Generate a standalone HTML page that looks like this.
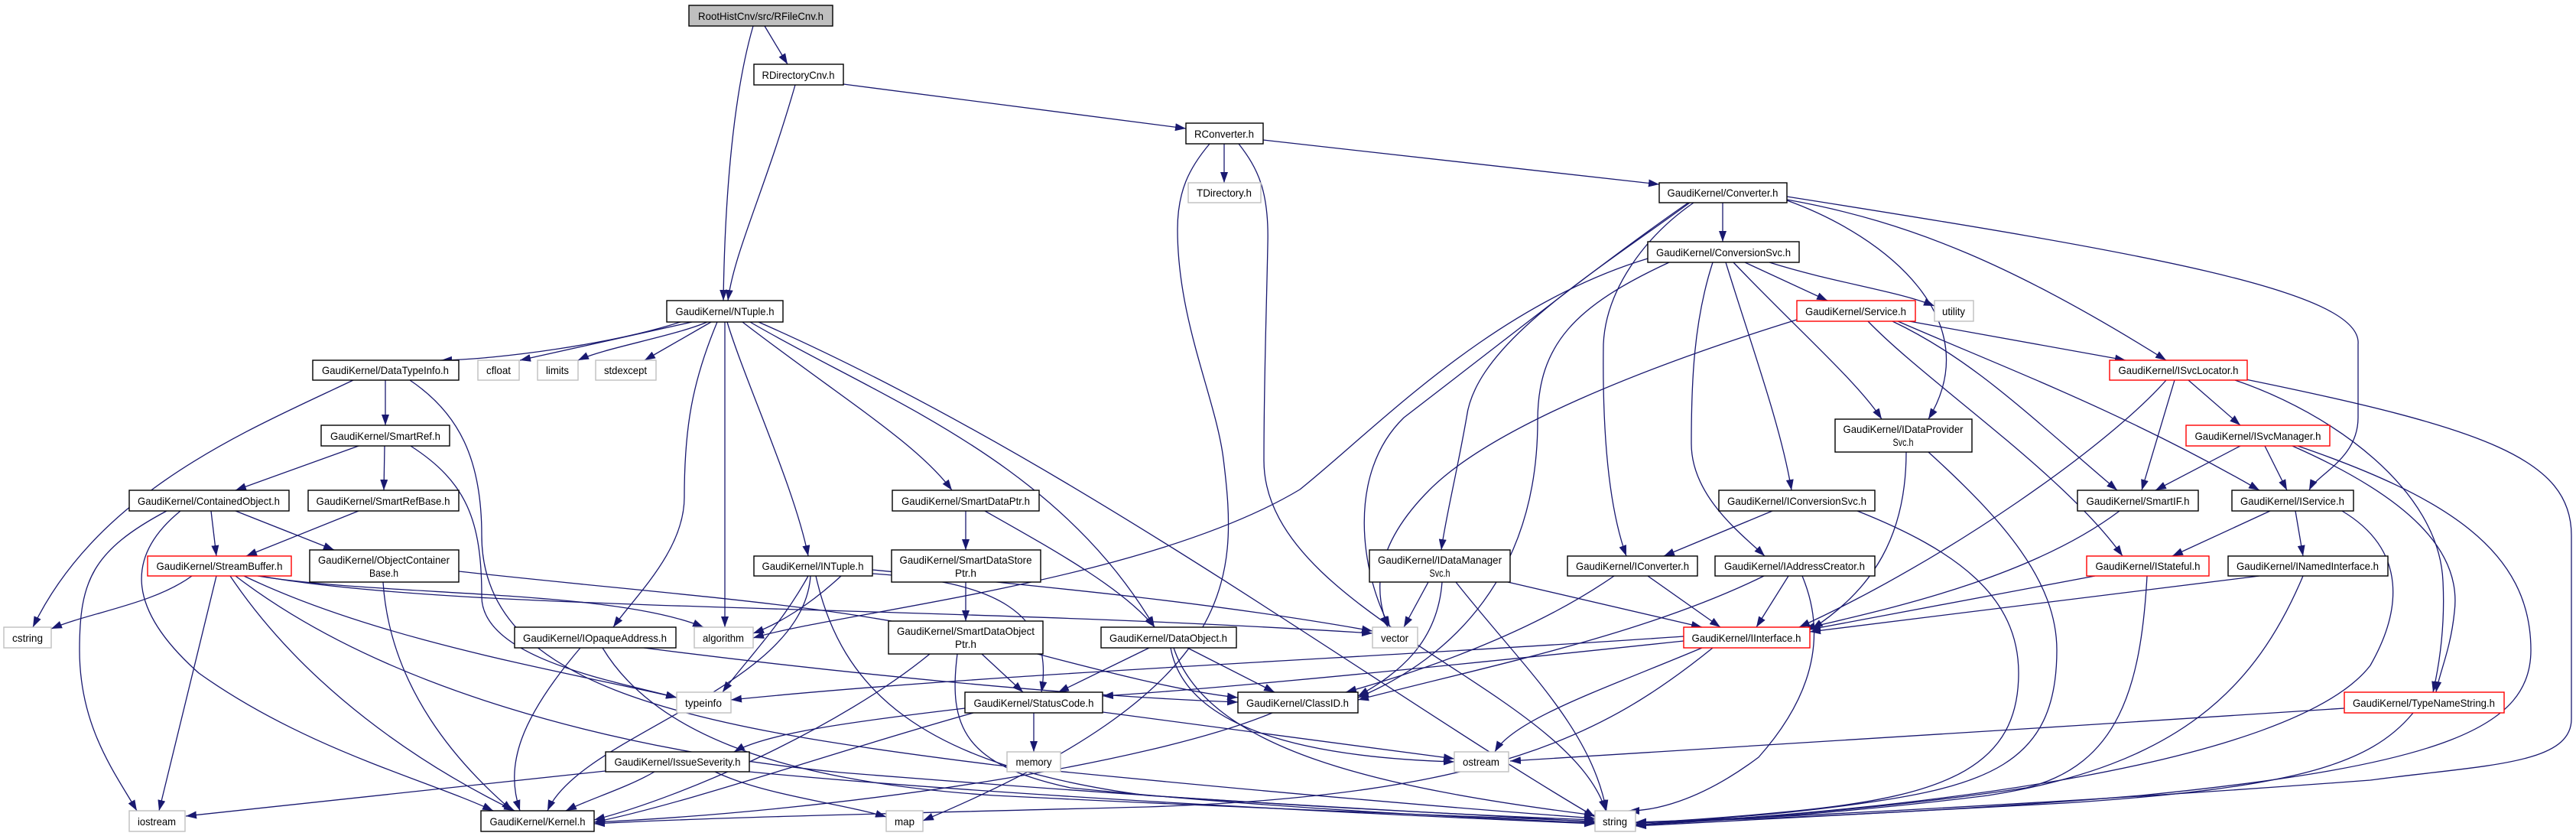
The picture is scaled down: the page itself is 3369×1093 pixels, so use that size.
<!DOCTYPE html>
<html><head><meta charset="utf-8"><style>
html,body{margin:0;padding:0;background:#fff;}
svg{display:block;}
text{font-family:"Liberation Sans",sans-serif;font-size:14px;fill:#000;text-anchor:middle;}
.e{fill:none;stroke:#191970;stroke-width:1.3;marker-end:url(#a);}
.b{fill:#fff;stroke:#000;stroke-width:1.4;}
.g{fill:#fff;stroke:#bfbfbf;stroke-width:1.4;}
.r{fill:#fff;stroke:#ff0000;stroke-width:1.4;}
</style></head><body>
<svg width="3369" height="1093" viewBox="0 0 3369 1093" xmlns="http://www.w3.org/2000/svg">
<defs><marker id="a" markerUnits="userSpaceOnUse" markerWidth="14" markerHeight="10" refX="14" refY="5" orient="auto"><path d="M0,0 L14,5 L0,10 z" fill="#191970"/></marker></defs>
<g>
<path class="e" d="M1000,34 L1030,84"/>
<path class="e" d="M985,34 C960,120 948,250 946,393"/>
<path class="e" d="M1040,111 C1000,250 960,330 952,393"/>
<path class="e" d="M1103,110 L1551,168"/>
<path class="e" d="M1601,188 L1601,239"/>
<path class="e" d="M1652,183 L2170,241"/>
<path class="e" d="M1582,188 C1555,220 1540,250 1540,300 C1540,420 1590,520 1600,600 C1620,760 1620,900 1207,1073"/>
<path class="e" d="M1620,188 C1645,220 1660,250 1658,320 C1656,420 1653,500 1653,600 C1650,800 2050,900 2100,1060"/>
<path class="e" d="M2253,265 L2253,316"/>
<path class="e" d="M2215,265 C2150,310 2100,380 2097,450 C2095,600 2110,680 2127,727"/>
<path class="e" d="M2210,265 C2080,360 1930,450 1918,546 C1905,620 1890,680 1885,719"/>
<path class="e" d="M2208,265 C2100,340 2000,420 1836,546 C1760,620 1780,750 1818,820"/>
<path class="e" d="M2337,262 C2470,310 2600,420 2522,548"/>
<path class="e" d="M2337,261 C2500,290 2640,350 2833,471"/>
<path class="e" d="M2337,257 C2800,330 3090,380 3084,450 L3084,546 C3084,600 3030,620 3020,641"/>
<path class="e" d="M890,421 C800,450 650,470 577,471"/>
<path class="e" d="M905,421 L680,471"/>
<path class="e" d="M925,421 C880,440 790,455 756,471"/>
<path class="e" d="M930,421 L843,471"/>
<path class="e" d="M948,421 L948,820"/>
<path class="e" d="M938,421 C905,500 895,560 895,650 C895,720 830,780 802,820"/>
<path class="e" d="M951,421 C975,500 1040,640 1057,727"/>
<path class="e" d="M971,421 C1100,520 1200,580 1245,641"/>
<path class="e" d="M981,421 C1150,520 1380,600 1510,820"/>
<path class="e" d="M992,421 C1400,600 1800,900 2086,1068"/>
<path class="e" d="M462,497 C330,560 130,640 43,820"/>
<path class="e" d="M504,497 L504,556"/>
<path class="e" d="M536,497 C600,540 630,600 630,700 C630,900 900,950 1300,1000 C1700,1040 1950,1060 2086,1070"/>
<path class="e" d="M469,583 L308,641"/>
<path class="e" d="M503,583 L502,641"/>
<path class="e" d="M537,583 C610,630 630,680 630,780 C630,860 800,890 885,912"/>
<path class="e" d="M218,668 C120,720 104,760 104,850 C104,950 150,1010 179,1060"/>
<path class="e" d="M236,668 C160,730 170,800 260,880 C400,980 560,1020 645,1060"/>
<path class="e" d="M276,668 L283,727"/>
<path class="e" d="M308,668 L437,719"/>
<path class="e" d="M469,668 L322,727"/>
<path class="e" d="M251,753 C200,790 120,800 67,822"/>
<path class="e" d="M283,753 L208,1060"/>
<path class="e" d="M301,753 C400,900 550,1000 673,1060"/>
<path class="e" d="M308,753 C500,900 800,980 1100,1010 C1600,1050 1900,1065 2086,1072"/>
<path class="e" d="M319,753 C500,840 750,880 885,912"/>
<path class="e" d="M337,753 C500,780 800,770 920,820"/>
<path class="e" d="M340,753 C600,800 1200,790 1795,828"/>
<path class="e" d="M501,761 C510,900 600,1000 670,1060"/>
<path class="e" d="M600,747 C900,780 1100,790 1300,840 C1450,880 1550,905 1619,912"/>
<path class="e" d="M759,847 C680,940 660,1000 680,1060"/>
<path class="e" d="M788,847 C850,950 1000,1020 1300,1040 C1700,1060 1950,1068 2086,1074"/>
<path class="e" d="M842,847 C1100,880 1400,910 1619,918"/>
<path class="e" d="M1057,753 C1020,820 970,870 945,905"/>
<path class="e" d="M1060,753 C1050,900 760,960 716,1060"/>
<path class="e" d="M1141,745 C1400,770 1600,790 1795,825"/>
<path class="e" d="M1141,750 C1300,760 1380,800 1362,905"/>
<path class="e" d="M1067,753 C1100,900 1200,1000 1500,1040 C1800,1060 2000,1068 2086,1075"/>
<path class="e" d="M1100,753 C1060,790 1020,815 985,828"/>
<path class="e" d="M1263,668 L1263,719"/>
<path class="e" d="M1288,668 C1380,720 1470,770 1510,820"/>
<path class="e" d="M1263,761 L1263,812"/>
<path class="e" d="M1284,855 L1338,905"/>
<path class="e" d="M1252,855 C1240,950 1260,1000 1400,1030 C1700,1060 1950,1070 2086,1076"/>
<path class="e" d="M1216,855 C1100,950 900,1040 777,1072"/>
<path class="e" d="M1503,847 L1384,905"/>
<path class="e" d="M1553,847 L1667,905"/>
<path class="e" d="M1531,847 C1550,950 1700,990 1902,996"/>
<path class="e" d="M1535,847 C1580,980 1800,1030 2086,1066"/>
<path class="e" d="M1868,761 L1836,820"/>
<path class="e" d="M1886,761 C1880,840 1830,880 1776,910"/>
<path class="e" d="M1904,761 C1990,870 2080,950 2101,1060"/>
<path class="e" d="M1972,761 L2226,820"/>
<path class="e" d="M2111,753 C2000,830 1850,880 1760,905"/>
<path class="e" d="M2155,753 L2250,820"/>
<path class="e" d="M1352,932 L1352,983"/>
<path class="e" d="M1442,931 L1902,992"/>
<path class="e" d="M1262,926 C1100,945 1000,960 960,983"/>
<path class="e" d="M1273,932 C1100,980 900,1050 777,1075"/>
<path class="e" d="M1664,932 C1500,1000 1100,1060 777,1075"/>
<path class="e" d="M792,1008 L243,1067"/>
<path class="e" d="M856,1009 C820,1030 770,1045 740,1060"/>
<path class="e" d="M935,1009 C1000,1040 1100,1050 1159,1068"/>
<path class="e" d="M980,1009 C1300,1040 1800,1065 2086,1077"/>
<path class="e" d="M2282,343 L2390,393"/>
<path class="e" d="M2314,343 C2400,370 2480,380 2530,400"/>
<path class="e" d="M2257,343 C2290,450 2330,560 2343,641"/>
<path class="e" d="M2267,343 C2350,430 2430,500 2461,548"/>
<path class="e" d="M2240,343 C2215,420 2212,500 2212,580 C2212,650 2280,700 2308,727"/>
<path class="e" d="M2155,338 C1950,400 1800,560 1700,640 C1500,760 1100,800 985,834"/>
<path class="e" d="M2183,343 C2060,400 2011,450 2011,550 C2011,750 1900,860 1776,912"/>
<path class="e" d="M2350,418 C2150,480 1950,560 1870,640 C1790,720 1800,780 1815,820"/>
<path class="e" d="M2443,420 C2520,500 2700,620 2776,727"/>
<path class="e" d="M2475,420 C2580,470 2650,540 2769,641"/>
<path class="e" d="M2482,420 C2620,480 2780,540 2955,641"/>
<path class="e" d="M2497,420 L2780,471"/>
<path class="e" d="M2833,497 C2760,580 2550,730 2353,820"/>
<path class="e" d="M2844,497 L2801,641"/>
<path class="e" d="M2862,497 L2930,556"/>
<path class="e" d="M2923,497 C3050,540 3190,640 3195,760 C3198,820 3190,870 3182,905"/>
<path class="e" d="M2937,496 C3250,560 3363,600 3363,700 L3363,940 C3363,1000 3250,1000 3100,1020 C2700,1050 2300,1070 2139,1075"/>
<path class="e" d="M2930,583 L2819,641"/>
<path class="e" d="M2962,583 L2991,641"/>
<path class="e" d="M2998,583 C3150,650 3220,720 3210,800 C3205,850 3190,880 3186,905"/>
<path class="e" d="M3005,583 C3200,650 3310,720 3310,850 C3310,950 3200,1000 2800,1040 C2500,1065 2250,1072 2139,1076"/>
<path class="e" d="M2969,668 L2841,727"/>
<path class="e" d="M3002,668 L3012,727"/>
<path class="e" d="M3063,668 C3150,720 3140,800 3100,870 C3000,1000 2500,1060 2139,1078"/>
<path class="e" d="M2772,668 C2650,760 2450,800 2360,822"/>
<path class="e" d="M2740,753 L2367,823"/>
<path class="e" d="M2808,753 C2800,900 2770,1000 2650,1030 C2450,1060 2250,1072 2139,1078"/>
<path class="e" d="M2955,753 L2367,826"/>
<path class="e" d="M3012,753 C2950,900 2850,1000 2600,1040 C2400,1065 2250,1072 2139,1079"/>
<path class="e" d="M3066,926 C2700,950 2300,975 1975,995"/>
<path class="e" d="M3156,932 C3100,1000 3000,1030 2700,1050 C2450,1065 2250,1073 2139,1080"/>
<path class="e" d="M2493,591 C2493,700 2450,770 2370,822"/>
<path class="e" d="M2522,591 C2620,680 2690,760 2690,850 C2690,1000 2600,1030 2400,1055 C2300,1068 2200,1073 2139,1076"/>
<path class="e" d="M2318,668 L2176,727"/>
<path class="e" d="M2429,668 C2560,720 2640,780 2640,880 C2640,1000 2550,1040 2350,1060 C2250,1070 2180,1074 2139,1076"/>
<path class="e" d="M2307,753 C2150,830 1950,870 1776,915"/>
<path class="e" d="M2339,753 L2297,820"/>
<path class="e" d="M2357,753 C2385,820 2380,900 2300,990 C2220,1050 2160,1060 2130,1060"/>
<path class="e" d="M2202,838 C1900,870 1600,900 1442,910"/>
<path class="e" d="M2202,832 C1800,860 1300,880 956,915"/>
<path class="e" d="M2226,847 C2100,900 1980,940 1955,983"/>
<path class="e" d="M2240,847 C2100,960 1950,1040 1500,1055 C1100,1065 900,1070 777,1077"/>
</g>
<g>
<rect x="901" y="7" width="188" height="27" fill="#bfbfbf" stroke="#000" stroke-width="1.4"/><text x="995" y="26" textLength="164" lengthAdjust="spacingAndGlyphs">RootHistCnv/src/RFileCnv.h</text>
<rect class="b" x="986" y="84" width="117" height="27"/><text x="1044" y="103" textLength="95" lengthAdjust="spacingAndGlyphs">RDirectoryCnv.h</text>
<rect class="b" x="1551" y="161" width="101" height="27"/><text x="1601" y="180" textLength="78" lengthAdjust="spacingAndGlyphs">RConverter.h</text>
<rect class="g" x="1554" y="239" width="95" height="26"/><text x="1601" y="257" textLength="72" lengthAdjust="spacingAndGlyphs">TDirectory.h</text>
<rect class="b" x="2170" y="239" width="167" height="26"/><text x="2253" y="257" textLength="145" lengthAdjust="spacingAndGlyphs">GaudiKernel/Converter.h</text>
<rect class="b" x="2155" y="316" width="198" height="27"/><text x="2254" y="335" textLength="176" lengthAdjust="spacingAndGlyphs">GaudiKernel/ConversionSvc.h</text>
<rect class="r" x="2350" y="393" width="155" height="27"/><text x="2427" y="412" textLength="132" lengthAdjust="spacingAndGlyphs">GaudiKernel/Service.h</text>
<rect class="g" x="2530" y="393" width="51" height="27"/><text x="2555" y="412" textLength="30" lengthAdjust="spacingAndGlyphs">utility</text>
<rect class="r" x="2759" y="471" width="180" height="26"/><text x="2849" y="489" textLength="157" lengthAdjust="spacingAndGlyphs">GaudiKernel/ISvcLocator.h</text>
<rect class="b" x="872" y="393" width="152" height="28"/><text x="948" y="412" textLength="129" lengthAdjust="spacingAndGlyphs">GaudiKernel/NTuple.h</text>
<rect class="b" x="409" y="471" width="191" height="26"/><text x="504" y="489" textLength="166" lengthAdjust="spacingAndGlyphs">GaudiKernel/DataTypeInfo.h</text>
<rect class="g" x="625" y="471" width="54" height="26"/><text x="652" y="489" textLength="32" lengthAdjust="spacingAndGlyphs">cfloat</text>
<rect class="g" x="703" y="471" width="53" height="26"/><text x="729" y="489" textLength="30" lengthAdjust="spacingAndGlyphs">limits</text>
<rect class="g" x="779" y="471" width="79" height="26"/><text x="818" y="489" textLength="56" lengthAdjust="spacingAndGlyphs">stdexcept</text>
<rect class="b" x="420" y="556" width="168" height="27"/><text x="504" y="575" textLength="144" lengthAdjust="spacingAndGlyphs">GaudiKernel/SmartRef.h</text>
<rect class="b" x="169" y="641" width="209" height="27"/><text x="273" y="660" textLength="186" lengthAdjust="spacingAndGlyphs">GaudiKernel/ContainedObject.h</text>
<rect class="b" x="403" y="641" width="197" height="27"/><text x="501" y="660" textLength="175" lengthAdjust="spacingAndGlyphs">GaudiKernel/SmartRefBase.h</text>
<rect class="r" x="193" y="727" width="188" height="26"/><text x="287" y="745" textLength="165" lengthAdjust="spacingAndGlyphs">GaudiKernel/StreamBuffer.h</text>
<rect class="b" x="405" y="719" width="195" height="42"/><text x="502" y="737" textLength="172" lengthAdjust="spacingAndGlyphs">GaudiKernel/ObjectContainer</text><text x="502" y="754" textLength="38" lengthAdjust="spacingAndGlyphs">Base.h</text>
<rect class="g" x="5" y="820" width="62" height="27"/><text x="36" y="839" textLength="40" lengthAdjust="spacingAndGlyphs">cstring</text>
<rect class="b" x="673" y="820" width="211" height="27"/><text x="778" y="839" textLength="188" lengthAdjust="spacingAndGlyphs">GaudiKernel/IOpaqueAddress.h</text>
<rect class="g" x="908" y="820" width="77" height="27"/><text x="946" y="839" textLength="54" lengthAdjust="spacingAndGlyphs">algorithm</text>
<rect class="g" x="885" y="905" width="71" height="27"/><text x="920" y="924" textLength="48" lengthAdjust="spacingAndGlyphs">typeinfo</text>
<rect class="b" x="792" y="983" width="188" height="26"/><text x="886" y="1001" textLength="165" lengthAdjust="spacingAndGlyphs">GaudiKernel/IssueSeverity.h</text>
<rect class="g" x="169" y="1060" width="73" height="27"/><text x="205" y="1079" textLength="50" lengthAdjust="spacingAndGlyphs">iostream</text>
<rect class="b" x="629" y="1060" width="148" height="27"/><text x="703" y="1079" textLength="125" lengthAdjust="spacingAndGlyphs">GaudiKernel/Kernel.h</text>
<rect class="b" x="986" y="727" width="155" height="26"/><text x="1063" y="745" textLength="133" lengthAdjust="spacingAndGlyphs">GaudiKernel/INTuple.h</text>
<rect class="b" x="1167" y="641" width="192" height="27"/><text x="1263" y="660" textLength="168" lengthAdjust="spacingAndGlyphs">GaudiKernel/SmartDataPtr.h</text>
<rect class="b" x="1166" y="719" width="195" height="42"/><text x="1263" y="737" textLength="173" lengthAdjust="spacingAndGlyphs">GaudiKernel/SmartDataStore</text><text x="1263" y="754" textLength="28" lengthAdjust="spacingAndGlyphs">Ptr.h</text>
<rect class="b" x="1162" y="812" width="202" height="43"/><text x="1263" y="830" textLength="180" lengthAdjust="spacingAndGlyphs">GaudiKernel/SmartDataObject</text><text x="1263" y="847" textLength="28" lengthAdjust="spacingAndGlyphs">Ptr.h</text>
<rect class="b" x="1440" y="820" width="177" height="27"/><text x="1528" y="839" textLength="154" lengthAdjust="spacingAndGlyphs">GaudiKernel/DataObject.h</text>
<rect class="g" x="1795" y="820" width="59" height="27"/><text x="1824" y="839" textLength="36" lengthAdjust="spacingAndGlyphs">vector</text>
<rect class="b" x="1791" y="719" width="184" height="42"/><text x="1883" y="737" textLength="162" lengthAdjust="spacingAndGlyphs">GaudiKernel/IDataManager</text><text x="1883" y="754" textLength="27" lengthAdjust="spacingAndGlyphs">Svc.h</text>
<rect class="b" x="2050" y="727" width="170" height="26"/><text x="2135" y="745" textLength="148" lengthAdjust="spacingAndGlyphs">GaudiKernel/IConverter.h</text>
<rect class="b" x="1262" y="905" width="180" height="27"/><text x="1352" y="924" textLength="157" lengthAdjust="spacingAndGlyphs">GaudiKernel/StatusCode.h</text>
<rect class="b" x="1619" y="905" width="157" height="27"/><text x="1697" y="924" textLength="134" lengthAdjust="spacingAndGlyphs">GaudiKernel/ClassID.h</text>
<rect class="g" x="1317" y="983" width="70" height="26"/><text x="1352" y="1001" textLength="47" lengthAdjust="spacingAndGlyphs">memory</text>
<rect class="g" x="1902" y="983" width="71" height="26"/><text x="1937" y="1001" textLength="48" lengthAdjust="spacingAndGlyphs">ostream</text>
<rect class="g" x="1159" y="1060" width="48" height="27"/><text x="1183" y="1079" textLength="26" lengthAdjust="spacingAndGlyphs">map</text>
<rect class="g" x="2086" y="1060" width="53" height="27"/><text x="2112" y="1079" textLength="32" lengthAdjust="spacingAndGlyphs">string</text>
<rect class="r" x="2202" y="820" width="165" height="27"/><text x="2284" y="839" textLength="143" lengthAdjust="spacingAndGlyphs">GaudiKernel/IInterface.h</text>
<rect class="b" x="2400" y="548" width="179" height="43"/><text x="2489" y="566" textLength="157" lengthAdjust="spacingAndGlyphs">GaudiKernel/IDataProvider</text><text x="2489" y="583" textLength="27" lengthAdjust="spacingAndGlyphs">Svc.h</text>
<rect class="r" x="2859" y="556" width="188" height="27"/><text x="2953" y="575" textLength="165" lengthAdjust="spacingAndGlyphs">GaudiKernel/ISvcManager.h</text>
<rect class="b" x="2248" y="641" width="204" height="27"/><text x="2350" y="660" textLength="182" lengthAdjust="spacingAndGlyphs">GaudiKernel/IConversionSvc.h</text>
<rect class="b" x="2717" y="641" width="158" height="27"/><text x="2796" y="660" textLength="135" lengthAdjust="spacingAndGlyphs">GaudiKernel/SmartIF.h</text>
<rect class="b" x="2919" y="641" width="159" height="27"/><text x="2998" y="660" textLength="136" lengthAdjust="spacingAndGlyphs">GaudiKernel/IService.h</text>
<rect class="b" x="2243" y="727" width="209" height="26"/><text x="2347" y="745" textLength="184" lengthAdjust="spacingAndGlyphs">GaudiKernel/IAddressCreator.h</text>
<rect class="r" x="2729" y="727" width="160" height="26"/><text x="2809" y="745" textLength="137" lengthAdjust="spacingAndGlyphs">GaudiKernel/IStateful.h</text>
<rect class="b" x="2914" y="727" width="209" height="26"/><text x="3018" y="745" textLength="186" lengthAdjust="spacingAndGlyphs">GaudiKernel/INamedInterface.h</text>
<rect class="r" x="3066" y="905" width="209" height="27"/><text x="3170" y="924" textLength="186" lengthAdjust="spacingAndGlyphs">GaudiKernel/TypeNameString.h</text>
</g>
</svg>
</body></html>
